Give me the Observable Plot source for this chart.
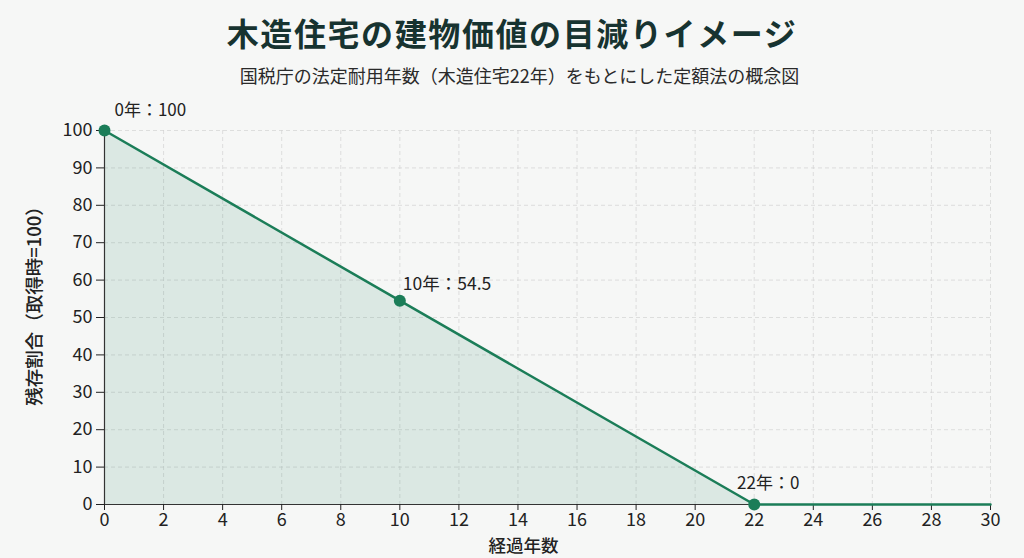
<!DOCTYPE html>
<html><head><meta charset="utf-8">
<script src="https://cdn.jsdelivr.net/npm/d3@7"></script>
<script src="https://cdn.jsdelivr.net/npm/@observablehq/plot@0.6"></script>
<style>
body{margin:0;background:#f6f7f6;font-family:"Noto Sans CJK JP","Noto Sans",sans-serif;width:1024px;height:558px;overflow:hidden}
#title{padding-top:11px;line-height:42px;height:42px;text-align:center;font-size:32px;font-weight:700;color:#173330;letter-spacing:1.6px;margin:0}
#sub{margin-top:11px;line-height:22px;height:22px;text-align:center;font-size:18px;color:#2a2a2a;margin-bottom:0;font-weight:400;padding-left:15px}
</style></head>
<body>
<div id="title">木造住宅の建物価値の目減りイメージ</div>
<div id="sub">国税庁の法定耐用年数（木造住宅22年）をもとにした定額法の概念図</div>
<div id="chart"></div>
<script>
const years = [0, 10, 22, 30];
const values = [100, 54.5, 0, 0];
const labelYears = [0, 10, 22];
const labelValues = [100, 54.5, 0];
const labelTexts = ["0年：100", "10年：54.5", "22年：0"];
const xTicks = [0,2,4,6,8,10,12,14,16,18,20,22,24,26,28,30];
const yTicks = [0,10,20,30,40,50,60,70,80,90,100];
const xLabel = "経過年数";
const yLabel = "残存割合（取得時=100）";

const data = years.map((x,i)=>({x, y: values[i]}));
const pts = labelYears.map((x,i)=>({x, y: labelValues[i], t: labelTexts[i]}));
const green = "#1b7d58";

const chart = Plot.plot({
  width: 1024, height: 472,
  marginTop: 44, marginBottom: 54, marginLeft: 104, marginRight: 34,
  style: {background: "transparent", fontFamily: "'Noto Sans CJK JP', sans-serif", fontSize: "17px", color: "#222"},
  x: {domain: [0, 30]},
  y: {domain: [0, 100]},
  marks: [
    Plot.gridX(xTicks, {stroke: "#d2d2d2", strokeOpacity: 1, strokeDasharray: "4,3", strokeWidth: 0.7}),
    Plot.gridY(yTicks, {stroke: "#d2d2d2", strokeOpacity: 1, strokeDasharray: "4,3", strokeWidth: 0.7}),
    Plot.areaY(data, {x: "x", y: "y", fill: green, fillOpacity: 0.12}),
    Plot.ruleX([0], {stroke: "#333", strokeWidth: 1.2}),
    Plot.ruleY([0], {stroke: "#333", strokeWidth: 1.2}),
    Plot.axisX(xTicks, {tickSize: 6, tickPadding: 3, fontSize: 18, fill: "#222", label: null}),
    Plot.axisY(yTicks, {tickSize: 8, tickPadding: 4, fontSize: 18, fill: "#222", label: null}),
    Plot.text([xLabel], {frameAnchor: "bottom", textAnchor: "middle", dx: -24, dy: 47, fontSize: 17.5, fill: "#222", fontWeight: 500, letterSpacing: "1px"}),
    Plot.text([yLabel], {frameAnchor: "left", textAnchor: "middle", rotate: -90, dx: -69, dy: -16, fontSize: 18.5, fill: "#222", fontWeight: 500, letterSpacing: "1px"}),
    Plot.line(data, {x: "x", y: "y", stroke: green, strokeWidth: 2.5}),
    Plot.dot(pts, {x: "x", y: "y", r: 6, fill: green}),
    Plot.text(pts.filter(d=>d.x===0), {x: "x", y: "y", text: "t", textAnchor: "start", dx: 10, dy: -20, fontSize: 17, fill: "#222"}),
    Plot.text(pts.filter(d=>d.x===10), {x: "x", y: "y", text: "t", textAnchor: "start", dx: 3, dy: -16, fontSize: 17.5, fill: "#222"}),
    Plot.text(pts.filter(d=>d.x===22), {x: "x", y: "y", text: "t", textAnchor: "middle", dx: 14, dy: -21, fontSize: 17, fill: "#222"})
  ]
});
document.getElementById("chart").appendChild(chart);
</script>
</body></html>
